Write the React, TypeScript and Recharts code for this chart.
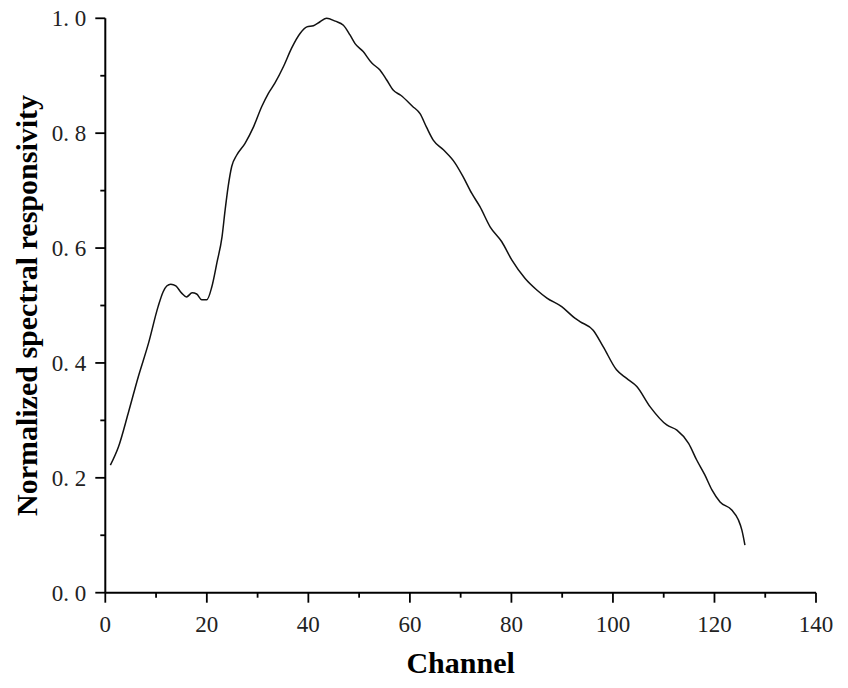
import { LineChart, Line, XAxis, YAxis, Label } from 'recharts'

// (channel, normalized responsivity)
const channels = [
  1, 2.6, 4.5, 6.5, 8.5, 10.4, 11.4, 12.1, 12.9, 13.9, 15, 16, 17.1, 18, 19, 20, 21, 22, 23, 23.6,
  24.2, 24.9, 25.9, 27.5, 29.2, 30.8, 32.1, 33.4, 35.1, 36.7, 38.4, 39.7, 41, 42.3, 43.6, 45.3,
  46.9, 48.2, 49.2, 50.8, 52.5, 54.1, 55.4, 56.7, 58.2, 60.5, 62, 63.3, 64.6, 66.6, 68.9, 70.5,
  72.2, 73.8, 75.8, 78.1, 80.1, 82.7, 85, 87, 89.9, 92.5, 93.5, 96.1, 98.1, 100.7, 102.7, 104.7,
  107.3, 110.6, 112.6, 114.9, 116.5, 118.1, 119.5, 121.1, 123.4, 124.7, 125.4, 126,
]
const responsivity = [
  0.222, 0.254, 0.312, 0.376, 0.434, 0.498, 0.524, 0.534, 0.537, 0.534, 0.522, 0.515, 0.522, 0.52,
  0.51, 0.51, 0.533, 0.575, 0.62, 0.666, 0.707, 0.742, 0.762, 0.782, 0.811, 0.846, 0.869, 0.887,
  0.916, 0.948, 0.974, 0.985, 0.987, 0.994, 1.0, 0.995, 0.988, 0.971, 0.956, 0.942, 0.922, 0.91,
  0.893, 0.875, 0.866, 0.847, 0.834, 0.81, 0.788, 0.771, 0.748, 0.724, 0.695, 0.672, 0.637, 0.611,
  0.579, 0.547, 0.527, 0.513, 0.498, 0.478, 0.472, 0.457, 0.428, 0.388, 0.373, 0.359, 0.324, 0.292,
  0.283, 0.26, 0.231, 0.205, 0.179, 0.158, 0.144, 0.127, 0.109, 0.083,
]

// every 10 channels a tick, labels on every 20
const xTicks = [0, 10, 20, 30, 40, 50, 60, 70, 80, 90, 100, 110, 120, 130, 140]
const xLabelled = [0, 20, 40, 60, 80, 100, 120, 140]
const yTicks = [0, 0.1, 0.2, 0.3, 0.4, 0.5, 0.6, 0.7, 0.8, 0.9, 1.0]
const yLabelled = ['0.0', '0.2', '0.4', '0.6', '0.8', '1.0']

const data = channels.map((c, i) => ({ channel: c, value: responsivity[i] }))

const FONT = '"Liberation Serif", "Times New Roman", serif'
const TICK_SIZE = 10
const X_MARGIN = 13
const Y_MARGIN = 9
const axisStroke = { stroke: '#000', strokeWidth: 2 }

const XTick = (props: any) => {
  const { x, y, payload } = props
  const axisY = y - TICK_SIZE - X_MARGIN
  const major = xLabelled.includes(payload.value)
  return (
    <g>
      <line x1={x} x2={x} y1={axisY} y2={axisY + (major ? TICK_SIZE : 5)} stroke="#000" strokeWidth={1.8} />
      {major && (
        <text x={x} y={y} dy="0.71em" textAnchor="middle" fontFamily={FONT} fontSize={23} fill="#222">
          {payload.value}
        </text>
      )}
    </g>
  )
}

const YTick = (props: any) => {
  const { x, y, payload } = props
  const axisX = x + TICK_SIZE + Y_MARGIN
  const label = Number(payload.value).toFixed(1)
  const major = yLabelled.includes(label)
  return (
    <g>
      <line x1={axisX} x2={axisX - (major ? TICK_SIZE : 5)} y1={y} y2={y} stroke="#000" strokeWidth={1.8} />
      {major && (
        <text x={x} y={y} dy="0.355em" textAnchor="end" fontFamily={FONT} fontSize={23} fill="#222">
          {label.replace('.', '. ')}
        </text>
      )}
    </g>
  )
}

const YTitle = (props: any) => {
  const vb = props.viewBox || { x: 0, y: 0, width: 0, height: 0 }
  const x = vb.x + vb.width - 68
  const y = vb.y + vb.height / 2
  return (
    <text
      x={x}
      y={y}
      transform={`rotate(-90 ${x} ${y})`}
      textAnchor="middle"
      fontFamily={FONT}
      fontWeight="bold"
      fontSize={30}
      fill="#000"
    >
      Normalized spectral responsivity
    </text>
  )
}

export default function App() {
  return (
    <div style={{ position: 'absolute', left: 0, top: 0, width: 848, height: 688, background: '#fff' }}>
      <LineChart
        width={848}
        height={688}
        data={data}
        margin={{ top: 18.3, right: 32, bottom: 55.3, left: 45.3 }}
      >
        <XAxis
          dataKey="channel"
          type="number"
          domain={[0, 140]}
          ticks={xTicks}
          interval={0}
          height={40}
          tick={<XTick />}
          tickSize={TICK_SIZE}
          tickMargin={X_MARGIN}
          axisLine={axisStroke}
          tickLine={false}
        >
          <Label
            value="Channel"
            position="bottom"
            offset={19}
            style={{ fontFamily: FONT, fontWeight: 'bold', fontSize: 30, fill: '#000' }}
          />
        </XAxis>
        <YAxis
          type="number"
          domain={[0, 1]}
          ticks={yTicks}
          interval={0}
          width={60}
          tick={<YTick />}
          tickSize={TICK_SIZE}
          tickMargin={Y_MARGIN}
          axisLine={axisStroke}
          tickLine={false}
        >
          <Label content={YTitle} />
        </YAxis>
        <Line
          type="monotone"
          dataKey="value"
          stroke="#111"
          strokeWidth={1.5}
          dot={false}
          isAnimationActive={false}
        />
      </LineChart>
    </div>
  )
}
